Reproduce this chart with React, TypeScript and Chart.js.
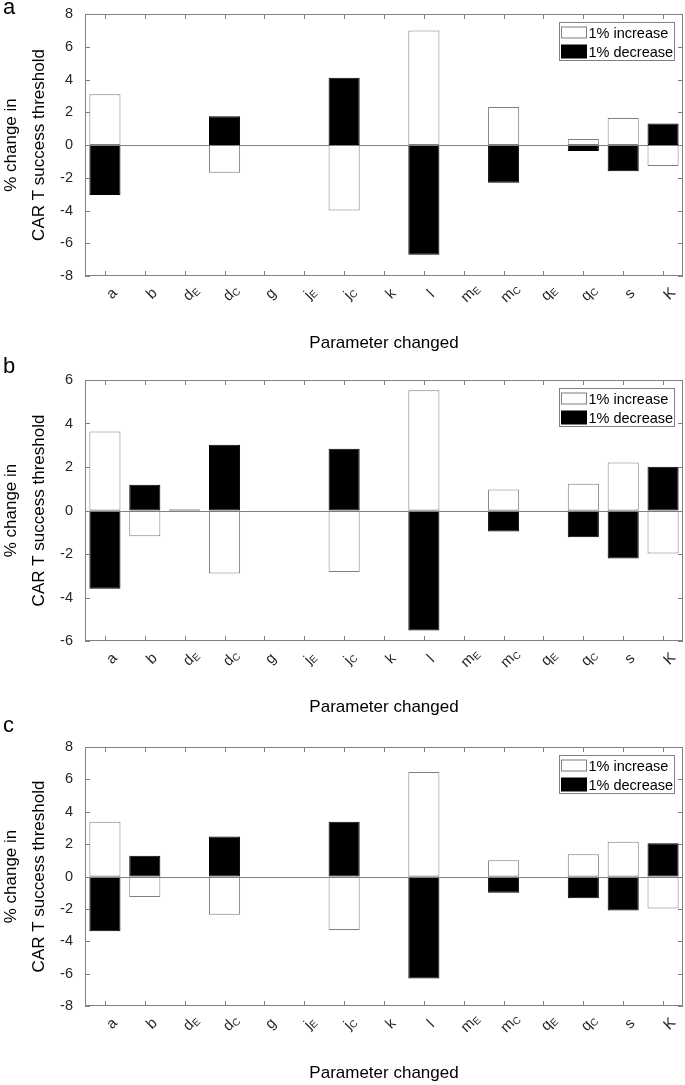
import React, { useEffect, useRef, useState } from 'react';
import { Chart, registerables } from 'chart.js';

Chart.register(...registerables);

// ---------- data ----------
const categories = ['a', 'b', 'd_E', 'd_C', 'g', 'j_E', 'j_C', 'k', 'l', 'm_E', 'm_C', 'q_E', 'q_C', 's', 'K'];

const increaseA = [3.1, 0, 0, -1.7, 0, 0, -4.0, 0, 7.0, 0, 2.32, 0, 0.37, 1.65, -1.28];
const decreaseA = [-3.05, 0, 0, 1.75, 0, 0, 4.1, 0, -6.7, 0, -2.3, 0, -0.37, -1.6, 1.32];

const increaseB = [3.63, -1.18, 0, -2.9, 0, 0, -2.83, 0, 5.53, 0, 0.97, 0, 1.23, 2.21, -1.98];
const decreaseB = [-3.6, 1.18, 0.05, 3.02, 0, 0, 2.84, 0, -5.52, 0, -0.97, 0, -1.23, -2.21, 2.01];

const increaseC = [3.38, -1.27, 0, -2.37, 0, 0, -3.3, 0, 6.45, 0, 1.0, 0, 1.38, 2.14, -1.98];
const decreaseC = [-3.38, 1.28, 0, 2.47, 0, 0, 3.38, 0, -6.3, 0, -1.0, 0, -1.35, -2.1, 2.06];

const yTicks8 = [-8, -6, -4, -2, 0, 2, 4, 6, 8];
const yTicks6 = [-6, -4, -2, 0, 2, 4, 6];

const legendLabels = ['1% increase', '1% decrease'];
const xTitle = 'Parameter changed';
const yTitle = ['% change in', 'CAR T success threshold'];
const panelLetters = ['a', 'b', 'c'];

// ---------- styles ----------
const FONT = "'Liberation Sans', Arial, Helvetica, sans-serif";
const GRAY = '#808080';
const TEXT = '#262626';

const framePlugin = {
  id: 'frameBox',
  afterDatasetsDraw(chart: any) {
    const { ctx, chartArea, scales } = chart;
    const { left, right, top, bottom } = chartArea;
    const x = scales.x;
    const y = scales.y;
    const line = (x1: number, y1: number, x2: number, y2: number) => {
      ctx.beginPath();
      ctx.moveTo(x1, y1);
      ctx.lineTo(x2, y2);
      ctx.stroke();
    };
    ctx.save();
    ctx.strokeStyle = GRAY;
    ctx.lineWidth = 1;
    const y0 = Math.round(y.getPixelForValue(0)) + 0.5;
    line(left, y0, right, y0);
    ctx.strokeRect(left + 0.5, top + 0.5, right - left - 1, bottom - top - 1);
    const tl = 5;
    y.ticks.forEach((_t: any, i: number) => {
      const py = Math.round(y.getPixelForTick(i)) + 0.5;
      line(left, py, left + tl, py);
      line(right, py, right - tl, py);
    });
    x.ticks.forEach((_t: any, i: number) => {
      const px = Math.round(x.getPixelForTick(i)) + 0.5;
      line(px, top, px, top + tl);
      line(px, bottom, px, bottom - tl);
    });
    ctx.restore();
  },
};

const legendPlugin = {
  id: 'boxLegend',
  afterDraw(chart: any) {
    const { ctx, chartArea } = chart;
    const { right, top } = chartArea;
    ctx.save();
    const lw = 115;
    const lh = 38;
    const lx = Math.round(right - 9 - lw) + 0.5;
    const ly = Math.round(top + 8) + 0.5;
    ctx.fillStyle = '#ffffff';
    ctx.fillRect(lx, ly, lw, lh);
    ctx.strokeStyle = GRAY;
    ctx.lineWidth = 1;
    ctx.strokeRect(lx, ly, lw, lh);
    const ds = chart.data.datasets;
    const rows = [ly + 10, ly + 29];
    ds.forEach((d: any, i: number) => {
      const cy = rows[i];
      const sh = i === 0 ? 11 : 13;
      ctx.fillStyle = d.backgroundColor;
      ctx.fillRect(lx + 2, cy - sh / 2, 25, sh);
      ctx.strokeStyle = d.borderColor;
      ctx.strokeRect(lx + 2, cy - sh / 2, 25, sh);
      ctx.fillStyle = '#000';
      ctx.font = `14.5px ${FONT}`;
      ctx.textBaseline = 'middle';
      ctx.textAlign = 'left';
      ctx.fillText(legendLabels[i], lx + 29, cy + 1);
    });
    ctx.restore();
  },
};

type PanelProps = {
  inc: number[];
  dec: number[];
  yMin: number;
  yMax: number;
  yTicks: number[];
  height: number;
  top: number;
  padTop: number;
  plotBottom: number;
  titlePadBottom: number;
};

type TickPos = { xs: number[]; bottom: number };

function Panel(p: PanelProps) {
  const ref = useRef<HTMLCanvasElement>(null);
  const [pos, setPos] = useState<TickPos | null>(null);
  useEffect(() => {
    const chart = new Chart(ref.current as HTMLCanvasElement, {
      type: 'bar',
      data: {
        labels: categories,
        datasets: [
          {
            label: legendLabels[0],
            data: p.inc,
            backgroundColor: '#ffffff',
            borderColor: '#7f7f7f',
            borderWidth: 1,
            borderSkipped: false,
            grouped: false,
            barPercentage: 0.78,
            categoryPercentage: 1,
          } as any,
          {
            label: legendLabels[1],
            data: p.dec,
            backgroundColor: '#000000',
            borderColor: '#000000',
            borderWidth: 1,
            borderSkipped: false,
            grouped: false,
            barPercentage: 0.78,
            categoryPercentage: 1,
          } as any,
        ],
      },
      options: {
        responsive: false,
        animation: false,
        devicePixelRatio: 1,
        layout: { padding: { top: p.padTop, right: 2, left: 0, bottom: 0 } },
        plugins: { legend: { display: false }, tooltip: { enabled: false } },
        scales: {
          x: {
            offset: true,
            grid: { display: false, drawTicks: false },
            border: { display: false },
            ticks: { display: false },
            title: {
              display: true,
              text: xTitle,
              color: '#000',
              font: { family: FONT, size: 17 },
              padding: { top: 0, bottom: p.titlePadBottom },
            },
            afterFit: (s: any) => {
              s.height = p.height - p.plotBottom;
            },
          },
          y: {
            min: p.yMin,
            max: p.yMax,
            grid: { display: false },
            border: { display: false },
            ticks: { color: TEXT, padding: 4, font: { family: FONT, size: 14.5 } },
            afterBuildTicks: (s: any) => {
              s.ticks = p.yTicks.map((v) => ({ value: v }));
            },
            afterFit: (s: any) => {
              s.width = 85;
            },
            title: {
              display: true,
              text: yTitle,
              color: '#000',
              font: { family: FONT, size: 17, lineHeight: '28px' },
              padding: { top: -3, bottom: 0 },
            },
          },
        },
      } as any,
      plugins: [framePlugin, legendPlugin],
    });
    const xScale: any = chart.scales.x;
    setPos({
      xs: categories.map((_c, i) => xScale.getPixelForTick(i)),
      bottom: chart.chartArea.bottom,
    });
    return () => chart.destroy();
  }, []);
  return (
    <>
      <canvas
        ref={ref}
        width={685}
        height={p.height}
        style={{ position: 'absolute', left: 0, top: p.top, display: 'block' }}
      />
      {pos &&
        categories.map((lab, i) => {
          const parts = lab.split('_');
          return (
            <div
              key={lab}
              style={{
                position: 'absolute',
                left: pos.xs[i] + 6,
                top: p.top + pos.bottom + 17,
                transform: 'translate(-50%, -50%) rotate(-45deg)',
                fontFamily: FONT,
                fontSize: 15,
                lineHeight: '15px',
                color: TEXT,
                whiteSpace: 'nowrap',
              }}
            >
              {parts[0]}
              {parts[1] ? (
                <span style={{ fontSize: 10, position: 'relative', top: 2 }}>{parts[1]}</span>
              ) : null}
            </div>
          );
        })}
    </>
  );
}

const letterStyle = (top: number): React.CSSProperties => ({
  position: 'absolute',
  left: 3,
  top,
  fontFamily: FONT,
  fontSize: 22,
  lineHeight: '22px',
  color: '#000',
});

export default function App() {
  return (
    <div style={{ position: 'absolute', left: 0, top: 0, width: 685, height: 1085, background: '#fff' }}>
      <Panel inc={increaseA} dec={decreaseA} yMin={-8} yMax={8} yTicks={yTicks8} height={365} top={0} padTop={14} plotBottom={276} titlePadBottom={11.8} />
      <Panel inc={increaseB} dec={decreaseB} yMin={-6} yMax={6} yTicks={yTicks6} height={365} top={365} padTop={15} plotBottom={276} titlePadBottom={12.8} />
      <Panel inc={increaseC} dec={decreaseC} yMin={-8} yMax={8} yTicks={yTicks8} height={355} top={730} padTop={17} plotBottom={276} titlePadBottom={1.8} />
      <div style={letterStyle(-4)}>{panelLetters[0]}</div>
      <div style={letterStyle(355)}>{panelLetters[1]}</div>
      <div style={letterStyle(714)}>{panelLetters[2]}</div>
    </div>
  );
}
